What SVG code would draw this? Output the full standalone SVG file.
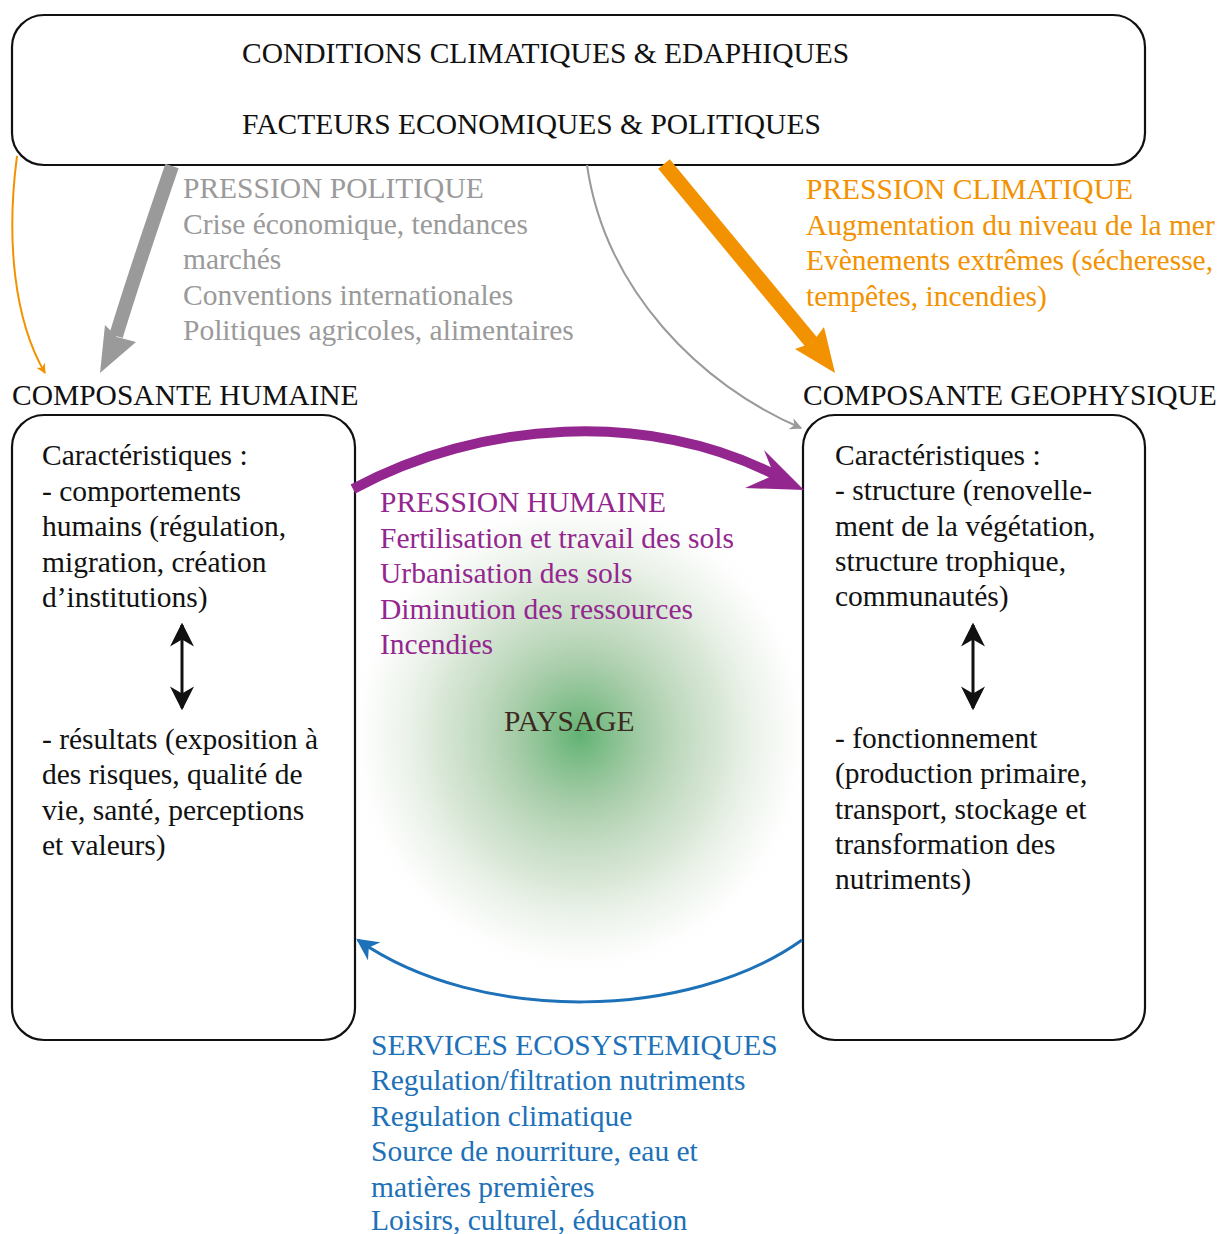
<svg xmlns="http://www.w3.org/2000/svg" width="1221" height="1234" viewBox="0 0 1221 1234" font-family="'Liberation Serif', 'Times New Roman', 'DejaVu Serif', serif">
<defs>
<style>
text{font-family:'Liberation Serif','Times New Roman','DejaVu Serif',serif;font-size:29.5px}
.k{fill:#111}
.g{fill:#9a9a9a}
.o{fill:#f39200}
.p{fill:#93278f}
.b{fill:#1d71b8}
.box{fill:none;stroke:#111;stroke-width:2.2}
</style>
<radialGradient id="land" cx="0.5" cy="0.5" r="0.5">
<stop offset="0" stop-color="#45a55a" stop-opacity="0.85"/>
<stop offset="0.3" stop-color="#7db47f" stop-opacity="0.65"/>
<stop offset="0.6" stop-color="#a9c9a4" stop-opacity="0.45"/>
<stop offset="0.85" stop-color="#d6e4d2" stop-opacity="0.22"/>
<stop offset="1" stop-color="#ffffff" stop-opacity="0"/>
</radialGradient>
<marker id="mo" viewBox="0 0 10 10" refX="9" refY="5" markerWidth="10" markerHeight="10" markerUnits="userSpaceOnUse" orient="auto"><path d="M0,0 L10,5 L0,10 L3,5 Z" fill="#f39200"/></marker>
<marker id="mg" viewBox="0 0 10 10" refX="9" refY="5" markerWidth="12" markerHeight="12" markerUnits="userSpaceOnUse" orient="auto"><path d="M0,0 L10,5 L0,10 L3,5 Z" fill="#9a9a9a"/></marker>
<marker id="mb" viewBox="0 0 10 10" refX="9" refY="5" markerWidth="22" markerHeight="22" markerUnits="userSpaceOnUse" orient="auto"><path d="M0,0 L10,5 L0,10 L3,5 Z" fill="#1d71b8"/></marker>
<marker id="mk" viewBox="0 0 10 10" refX="9" refY="5" markerWidth="24" markerHeight="24" markerUnits="userSpaceOnUse" orient="auto"><path d="M0,0 L10,5 L0,10 L3,5 Z" fill="#111"/></marker>
</defs>
<rect width="1221" height="1234" fill="#fff"/>
<ellipse id="paysage-bg" cx="580" cy="735" rx="235" ry="245" fill="url(#land)"/>

<g id="top">
<rect class="box" x="12" y="15" width="1133" height="150" rx="32"/>
<text class="k" x="242" y="63">CONDITIONS CLIMATIQUES &amp; EDAPHIQUES</text>
<text class="k" x="242" y="134">FACTEURS ECONOMIQUES &amp; POLITIQUES</text>
</g>

<g id="humaine">
<text class="k" x="12" y="405">COMPOSANTE HUMAINE</text>
<rect class="box" x="12" y="415" width="343" height="625" rx="32"/>
<text class="k" x="42" y="465">Caractéristiques :</text>
<text class="k" x="42" y="501">- comportements</text>
<text class="k" x="42" y="536">humains (régulation,</text>
<text class="k" x="42" y="572">migration, création</text>
<text class="k" x="42" y="607">d’institutions)</text>
<text class="k" x="42" y="749">- résultats (exposition à</text>
<text class="k" x="42" y="784">des risques, qualité de</text>
<text class="k" x="42" y="820">vie, santé, perceptions</text>
<text class="k" x="42" y="855">et valeurs)</text>
</g>

<g id="geophysique">
<text class="k" x="803" y="405">COMPOSANTE GEOPHYSIQUE</text>
<rect class="box" x="803" y="415" width="342" height="625" rx="32"/>
<text class="k" x="835" y="465">Caractéristiques :</text>
<text class="k" x="835" y="500">- structure (renovelle-</text>
<text class="k" x="835" y="536">ment de la végétation,</text>
<text class="k" x="835" y="571">structure trophique,</text>
<text class="k" x="835" y="606">communautés)</text>
<text class="k" x="835" y="748">- fonctionnement</text>
<text class="k" x="835" y="783">(production primaire,</text>
<text class="k" x="835" y="819">transport, stockage et</text>
<text class="k" x="835" y="854">transformation des</text>
<text class="k" x="835" y="889">nutriments)</text>
</g>

<g id="paysage">
<text x="504" y="731" fill="#3b2a1e">PAYSAGE</text>
</g>

<g id="labels">
<text class="g" x="183" y="198">PRESSION POLITIQUE</text>
<text class="g" x="183" y="234">Crise économique, tendances</text>
<text class="g" x="183" y="269">marchés</text>
<text class="g" x="183" y="305">Conventions internationales</text>
<text class="g" x="183" y="340">Politiques agricoles, alimentaires</text>
<text class="o" x="806" y="199">PRESSION CLIMATIQUE</text>
<text class="o" x="806" y="235">Augmentation du niveau de la mer</text>
<text class="o" x="806" y="270">Evènements extrêmes (sécheresse,</text>
<text class="o" x="806" y="306">tempêtes, incendies)</text>
<text class="p" x="380" y="512">PRESSION HUMAINE</text>
<text class="p" x="380" y="548">Fertilisation et travail des sols</text>
<text class="p" x="380" y="583">Urbanisation des sols</text>
<text class="p" x="380" y="619">Diminution des ressources</text>
<text class="p" x="380" y="654">Incendies</text>
<text class="b" x="371" y="1055">SERVICES ECOSYSTEMIQUES</text>
<text class="b" x="371" y="1090">Regulation/filtration nutriments</text>
<text class="b" x="371" y="1126">Regulation climatique</text>
<text class="b" x="371" y="1161">Source de nourriture, eau et</text>
<text class="b" x="371" y="1197">matières premières</text>
<text class="b" x="371" y="1230">Loisirs, culturel, éducation</text>
</g>

<g id="connectors">
<path d="M17,156 C6,240 14,320 45,373" fill="none" stroke="#f39200" stroke-width="2" marker-end="url(#mo)"/>
<path d="M172,166 C150,230 130,290 116,336" fill="none" stroke="#9a9a9a" stroke-width="14"/>
<path d="M100,373 L105,325 L117,337 L136,342 Z" fill="#9a9a9a"/>
<path d="M587,165 C605,290 700,385 801,428" fill="none" stroke="#9a9a9a" stroke-width="2" marker-end="url(#mg)"/>
<path d="M664,164 L812,343" fill="none" stroke="#f39200" stroke-width="15"/>
<path d="M835,373 L795,349 L812,343 L824,327 Z" fill="#f39200"/>
<path d="M353,489 C480,420 650,410 775,475" fill="none" stroke="#93278f" stroke-width="10"/>
<path d="M804,490 L745,488 L774,475 L764,450 Z" fill="#93278f"/>
<path d="M802,940 C690,1020 480,1025 358,940" fill="none" stroke="#1d71b8" stroke-width="3" marker-end="url(#mb)"/>
<line x1="182" y1="640" x2="182" y2="625" stroke="#111" stroke-width="3" marker-end="url(#mk)"/>
<line x1="182" y1="640" x2="182" y2="708" stroke="#111" stroke-width="3" marker-end="url(#mk)"/>
<line x1="973" y1="640" x2="973" y2="625" stroke="#111" stroke-width="3" marker-end="url(#mk)"/>
<line x1="973" y1="640" x2="973" y2="708" stroke="#111" stroke-width="3" marker-end="url(#mk)"/>
</g>
</svg>
